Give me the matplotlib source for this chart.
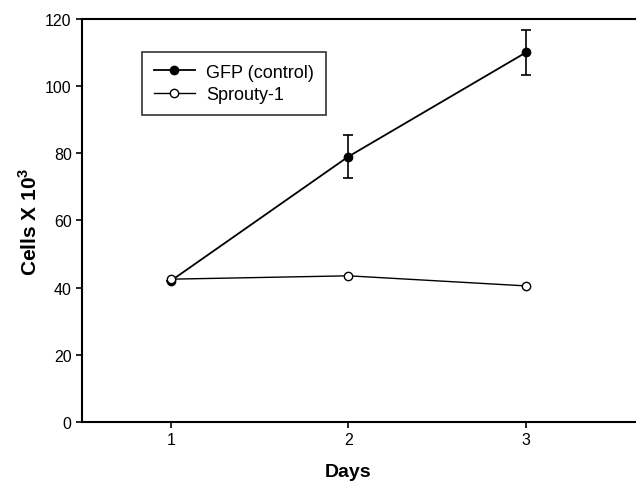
import matplotlib
matplotlib.use("Agg")
import matplotlib.pyplot as plt

plt.rcParams['font.family'] = ['Liberation Sans', 'DejaVu Sans']
plt.rcParams['mathtext.fontset'] = 'custom'
plt.rcParams['mathtext.rm'] = 'Liberation Sans'
plt.rcParams['mathtext.bf'] = 'Liberation Sans:bold'

days = [1, 2, 3]
gfp = [42, 79, 110]
gfp_err = [0, 6.5, 6.7]
sprouty = [42.5, 43.5, 40.5]

fig = plt.figure(figsize=(6.36, 4.85), dpi=100)
ax = fig.add_axes([0.129, 0.128, 0.871, 0.831])

ax.errorbar(days, gfp, yerr=gfp_err, fmt='none', ecolor='black',
            capsize=3.5, elinewidth=1.2, capthick=1.2)
ax.plot(days, gfp, color='black', marker='o', markersize=6,
        linewidth=1.3, label='GFP (control)')
ax.plot(days, sprouty, color='black', marker='o', markersize=6,
        markerfacecolor='white', linewidth=1.0, label='Sprouty-1')

ax.set_xlim(0.5, 3.62)
ax.set_ylim(0, 120)
ax.set_xticks(days)
ax.set_yticks([0, 20, 40, 60, 80, 100, 120])
ax.tick_params(direction='out', length=4, width=1.2, labelsize=11.5)
ax.spines['right'].set_visible(False)
for s in ['left', 'bottom', 'top']:
    ax.spines[s].set_linewidth(1.5)

ax.set_xlabel('Days', fontsize=14, fontweight='bold', labelpad=11)
ax.xaxis.label.set_x(0.481)
ax.set_ylabel(r'Cells X 10$^\mathbf{3}$', fontsize=15, fontweight='bold', labelpad=3)

leg = ax.legend(loc='upper left', bbox_to_anchor=(0.108, 0.918), fontsize=13,
                frameon=True, fancybox=False, edgecolor='black',
                handlelength=2.3, borderpad=0.65, labelspacing=0.3,
                handletextpad=0.6, borderaxespad=0)
leg.get_frame().set_linewidth(1.2)

fig.savefig('out.png', dpi=100)
